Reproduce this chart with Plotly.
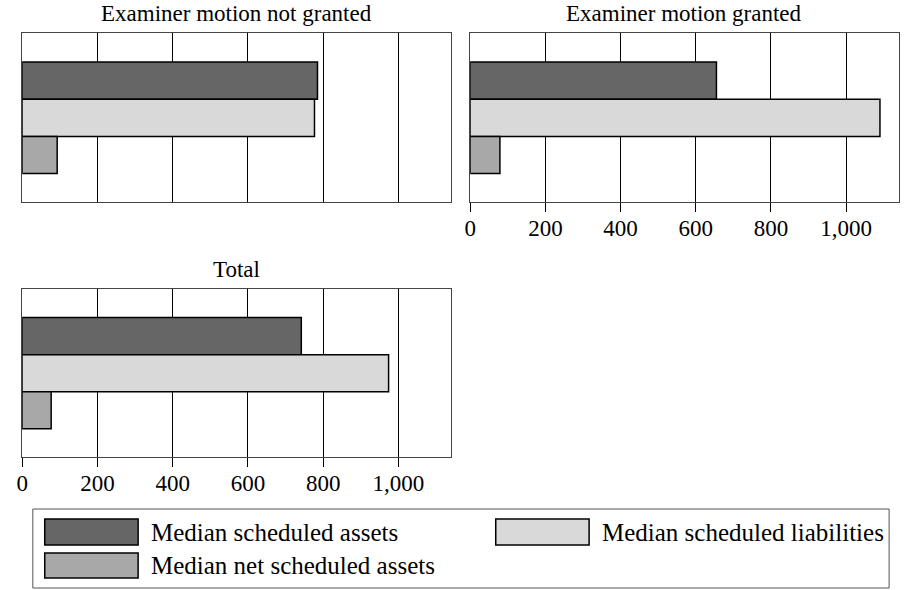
import plotly.graph_objects as go

# ---- data ----
panels = ["Examiner motion not granted", "Examiner motion granted", "Total"]
series_names = ["Median scheduled assets", "Median scheduled liabilities", "Median net scheduled assets"]
assets = [785, 655, 742]
liabilities = [777, 1090, 974]
net = [93, 79, 77]
tick_vals = [0, 200, 400, 600, 800, 1000]
tick_text = ["0", "200", "400", "600", "800", "1,000"]

colors = ["#666666", "#d9d9d9", "#a8a8a8"]
W, H = 907, 590
FONT = "Liberation Serif"


def px_x(x):
    return x / W


def px_y(y):
    return 1 - y / H


# panel pixel boxes (left, right, top, bottom)
boxes = [
    (16.3, 448.0, 33.3, 202.3),
    (467.3, 898.7, 33.3, 202.3),
    (16.3, 448.0, 289.0, 457.3),
]

fig = go.Figure()
series = [assets, liabilities, net]
for i, name in enumerate(panels):
    ax = "" if i == 0 else str(i + 1)
    for s, sname in enumerate(series_names):
        fig.add_trace(go.Bar(
            x=[series[s][i]], y=[name], orientation="h", name=sname,
            marker=dict(color=colors[s], line=dict(color="black", width=1.5)),
            xaxis="x" + ax, yaxis="y" + ax, showlegend=False,
        ))

layout = dict(
    width=W, height=H, margin=dict(l=0, r=0, t=0, b=0),
    paper_bgcolor="white", plot_bgcolor="white",
    barmode="group", bargap=0.34, bargroupgap=0,
    font=dict(family=FONT, size=23, color="black"),
    showlegend=False,
)
annotations = []
for i, (l, r, t, b) in enumerate(boxes):
    ax = "" if i == 0 else str(i + 1)
    show_ticks = i != 0
    layout["xaxis" + ax] = dict(
        domain=[px_x(l), px_x(r)], range=[0, 1140], anchor="y" + ax,
        tickvals=tick_vals, ticktext=tick_text,
        showticklabels=show_ticks, ticks="outside" if show_ticks else "",
        ticklen=9, tickcolor="black", tickwidth=1, ticklabelstandoff=-4,
        showgrid=True, gridcolor="black", gridwidth=1, zeroline=False,
        showline=True, mirror=True, linecolor="#444444", linewidth=1,
        tickfont=dict(family=FONT, size=23, color="black"), fixedrange=True,
    )
    layout["yaxis" + ax] = dict(
        domain=[px_y(b), px_y(t)], anchor="x" + ax, type="category",
        range=[0.5, -0.5], showticklabels=False, showgrid=False, ticks="",
        showline=True, mirror=True, linecolor="#444444", linewidth=1,
        zeroline=False, fixedrange=True,
    )
    annotations.append(dict(
        text=panels[i], x=px_x((l + r) / 2), y=px_y(t), xref="paper", yref="paper",
        xanchor="center", yanchor="bottom", yshift=5, showarrow=False,
        font=dict(family=FONT, size=23, color="black"),
    ))

# legend (drawn manually to match large swatches)
shapes = [dict(type="rect", xref="paper", yref="paper",
               x0=px_x(27), x1=px_x(889), y0=px_y(588), y1=px_y(509),
               line=dict(color="#555555", width=1), fillcolor="rgba(0,0,0,0)")]
legend_pos = [(39, 519, 545, 144), (493, 519, 545, 598), (39, 553, 578, 144)]
for s, (x0, y0, y1, tx) in enumerate(legend_pos):
    shapes.append(dict(type="rect", xref="paper", yref="paper",
                       x0=px_x(x0), x1=px_x(x0 + 94), y0=px_y(y1), y1=px_y(y0),
                       line=dict(color="black", width=1.5), fillcolor=colors[s]))
    annotations.append(dict(
        text=series_names[s], x=px_x(tx), y=px_y((y0 + y1) / 2), xref="paper", yref="paper",
        xanchor="left", yanchor="middle", showarrow=False,
        font=dict(family=FONT, size=25, color="black"),
    ))

layout["annotations"] = annotations
layout["shapes"] = shapes
fig.update_layout(**layout)
fig.write_html("out.html", config={"displayModeBar": False},
               post_script="document.body.style.margin='0';")
